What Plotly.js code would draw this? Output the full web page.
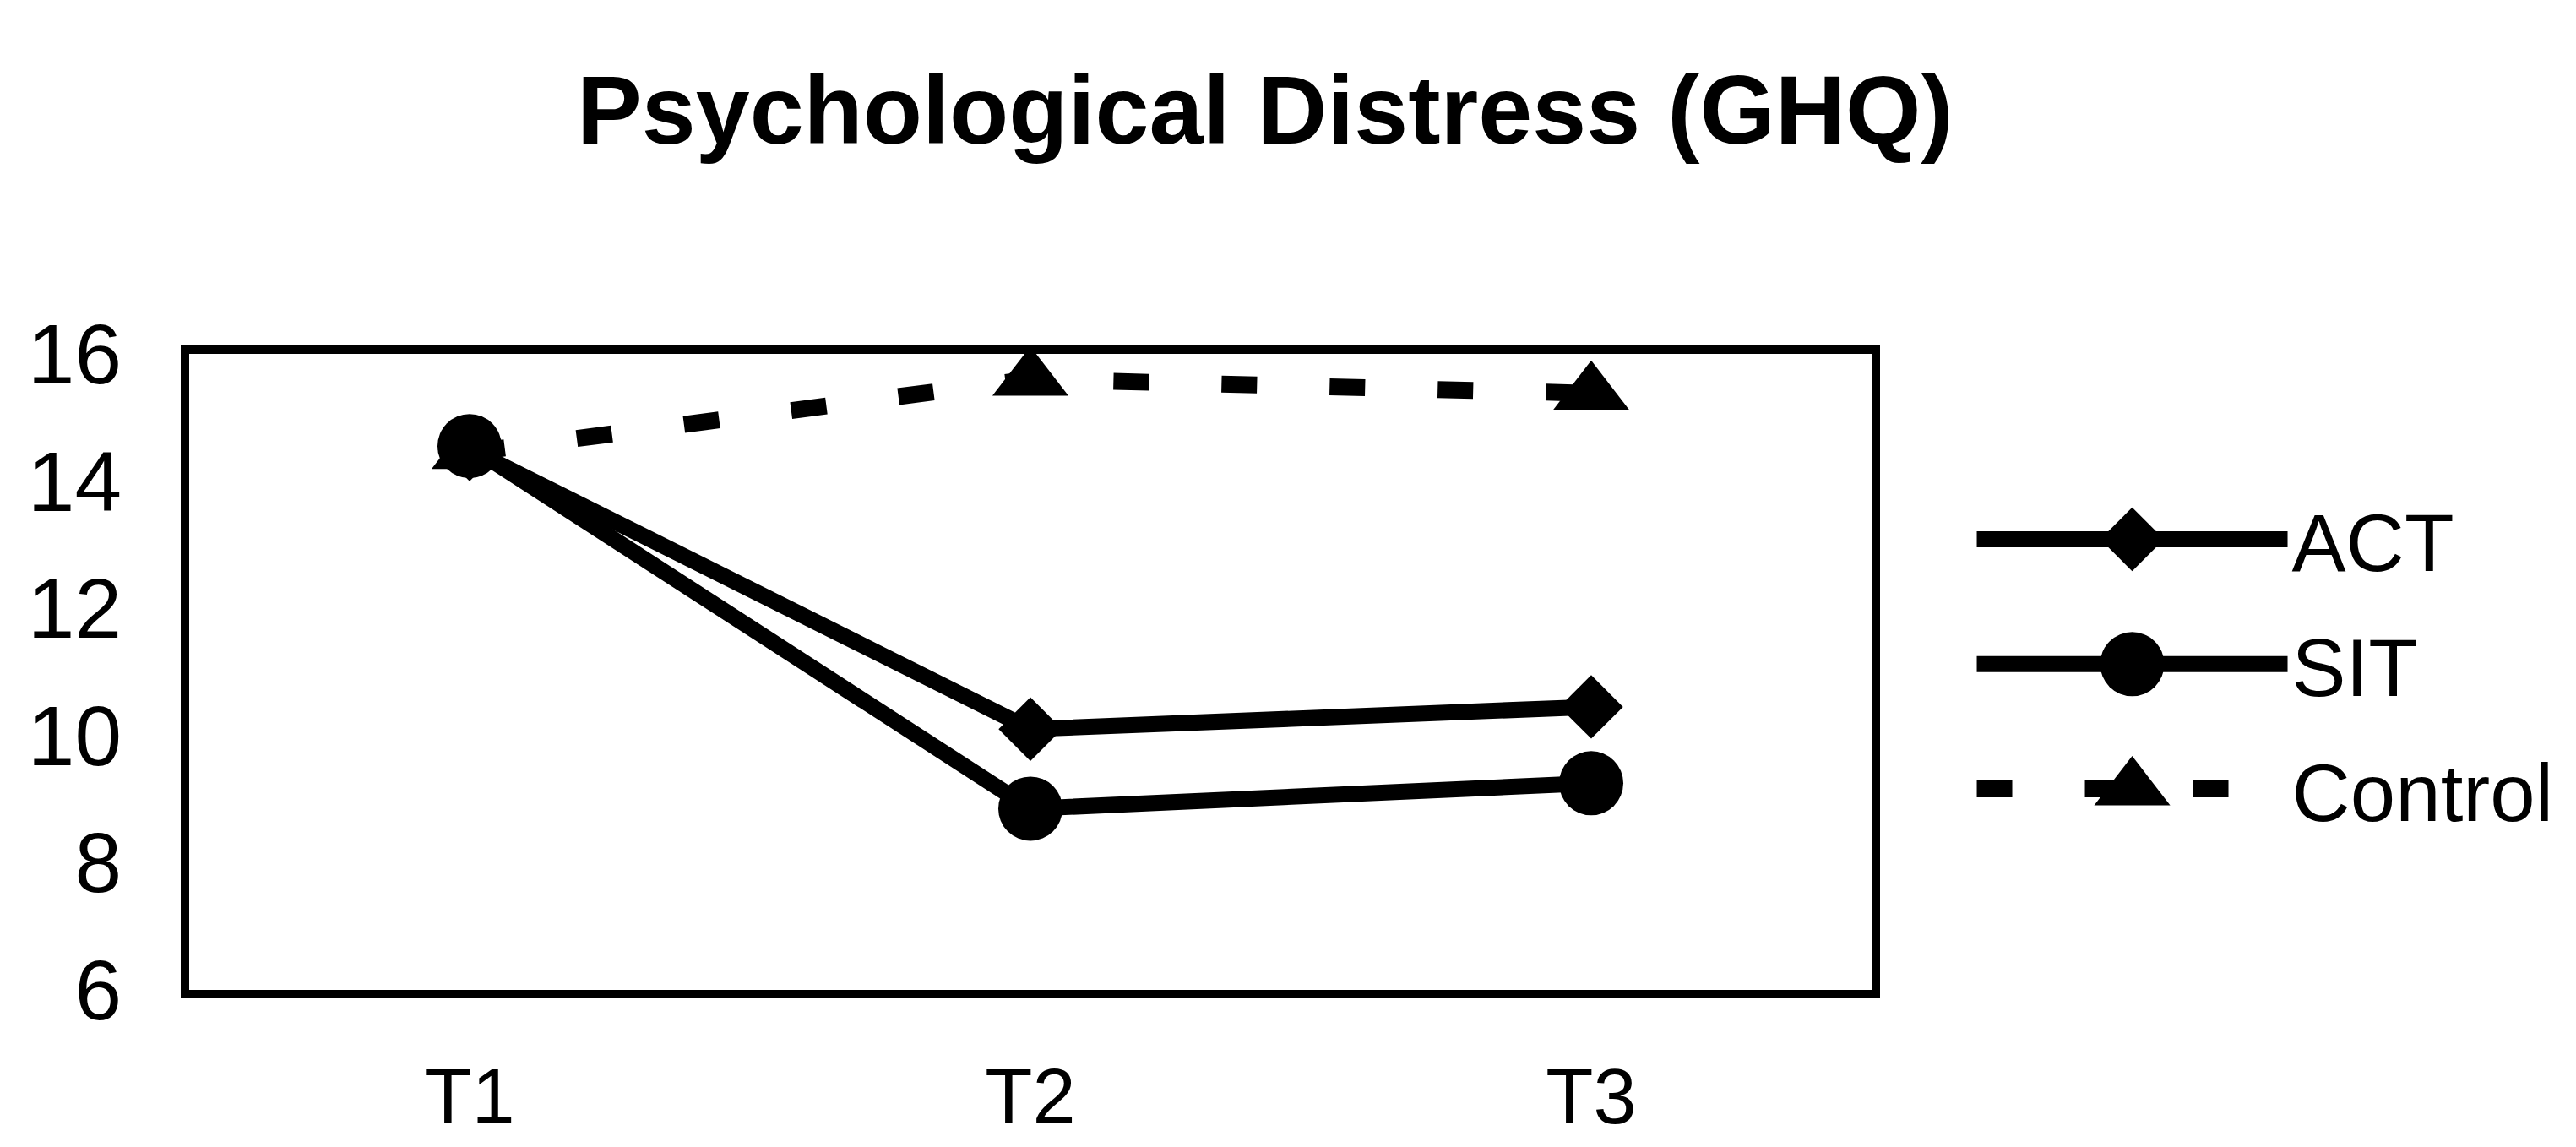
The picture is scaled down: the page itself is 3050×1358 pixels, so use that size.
<!DOCTYPE html>
<html>
<head>
<meta charset="utf-8">
<script src="https://cdn.plot.ly/plotly-3.0.1.min.js"></script>
<style>
html, body { margin: 0; padding: 0; background: #ffffff; }
#chart { width: 3050px; height: 1358px; }
</style>
</head>
<body>
<div id="chart"></div>
<script>
// ---- data ----
const timepoints = ['T1', 'T2', 'T3'];
const actValues = [14.5, 10.1, 10.45];
const sitValues = [14.55, 8.85, 9.25];
const controlValues = [14.45, 15.6, 15.38];
const seriesNames = ['ACT', 'SIT', 'Control'];
const yTickValues = [6, 8, 10, 12, 14, 16];
const chartTitle = 'Psychological Distress (GHQ)';

const FONT = 'Liberation Sans, Arial, Helvetica, sans-serif';

const traces = [
  {
    x: timepoints, y: actValues, name: seriesNames[0], type: 'scatter', mode: 'lines+markers',
    line: { color: '#000', width: 19 },
    marker: { symbol: 'diamond', size: 58, color: '#000' },
    legendgroup: 'a'
  },
  {
    x: timepoints, y: sitValues, name: seriesNames[1], type: 'scatter', mode: 'lines+markers',
    line: { color: '#000', width: 19 },
    marker: { symbol: 'circle', size: 76, color: '#000' },
    legendgroup: 'b'
  },
  {
    x: timepoints, y: controlValues, name: seriesNames[2], type: 'scatter', mode: 'lines+markers',
    line: { color: '#000', width: 20, dash: '42px,86px' },
    marker: { symbol: 'triangle-up', size: 78, color: '#000' },
    legendgroup: 'c'
  }
];

const layout = {
  width: 3050,
  height: 1358,
  paper_bgcolor: '#ffffff',
  plot_bgcolor: '#ffffff',
  margin: { l: 224, r: 834, t: 419, b: 186, pad: 0 },
  font: { family: FONT, color: '#000', size: 96 },
  showlegend: true,
  title: {
    text: chartTitle,
    font: { family: FONT, size: 115, color: '#000', weight: 700 },
    xref: 'container', yref: 'container',
    x: 0.4911, xanchor: 'center',
    y: 1 - 89 / 1358, yanchor: 'top'
  },
  xaxis: {
    type: 'category',
    range: [-0.5, 2.5],
    showgrid: false, zeroline: false,
    showline: true, mirror: true, linecolor: '#000', linewidth: 10,
    ticks: '',
    tickfont: { family: FONT, size: 92, color: '#000' },
    ticklabelstandoff: 38,
    fixedrange: true
  },
  yaxis: {
    range: [6, 16],
    tickvals: yTickValues,
    ticktext: yTickValues.map(String),
    showgrid: false, zeroline: false,
    showline: true, mirror: true, linecolor: '#000', linewidth: 10,
    ticks: '',
    tickfont: { family: FONT, size: 100, color: '#000' },
    ticklabelstandoff: 50,
    fixedrange: true
  },
  legend: {
    xref: 'paper', yref: 'paper',
    x: 1.06, xanchor: 'left',
    y: 0.80, yanchor: 'top',
    itemwidth: 368,
    traceorder: 'grouped',
    tracegroupgap: 20,
    font: { family: FONT, size: 96, color: '#000' },
    bgcolor: 'rgba(0,0,0,0)',
    borderwidth: 0
  }
};

Plotly.newPlot('chart', traces, layout, { staticPlot: true, displayModeBar: false }).then(function (gd) {
  // enlarge legend symbols to match the plotted markers and line widths
  const mainTraces = gd.querySelectorAll('.scatterlayer .trace');
  const legendItems = gd.querySelectorAll('.legend .traces');
  legendItems.forEach(function (item) {
    const dat = item.__data__ && item.__data__[0] && item.__data__[0].trace;
    if (!dat) return;
    const idx = dat.index;
    const src = mainTraces[idx];
    const lw = traces[idx].line.width;
    item.querySelectorAll('.legendlines path').forEach(function (p) {
      p.style.strokeWidth = lw + 'px';
    });
    if (!src) return;
    const mainPt = src.querySelector('.points path');
    const legPt = item.querySelector('.legendpoints path');
    if (mainPt && legPt) {
      const wMain = mainPt.getBBox().width;
      const wLeg = legPt.getBBox().width;
      if (wLeg > 0) {
        const k = wMain / wLeg;
        const t = legPt.getAttribute('transform') || '';
        legPt.setAttribute('transform', t + ' scale(' + k + ')');
      }
    }
  });
});
</script>
</body>
</html>
